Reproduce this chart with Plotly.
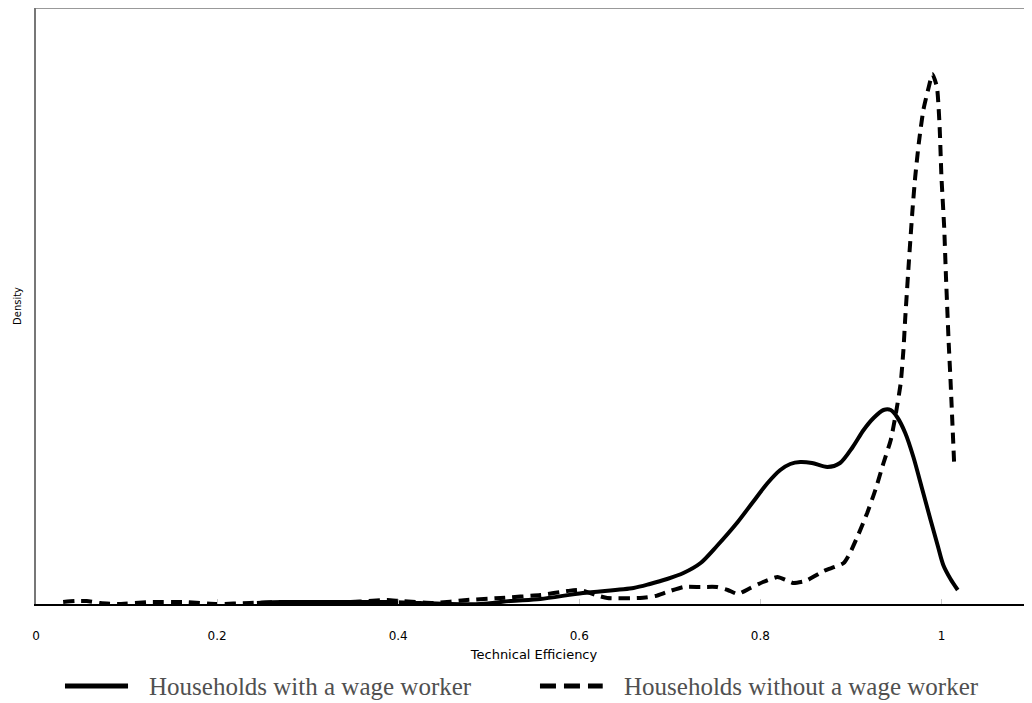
import plotly.graph_objects as go

# Technical efficiency grid and kernel density values
with_x = [0.244, 0.273, 0.328, 0.388, 0.424, 0.457, 0.491, 0.524, 0.557, 0.604,
          0.660, 0.678, 0.697, 0.715, 0.734, 0.752, 0.775, 0.791, 0.808, 0.822,
          0.833, 0.844, 0.857, 0.874, 0.888, 0.902, 0.914, 0.925, 0.936, 0.944,
          0.951, 0.960, 0.969, 0.979, 0.988, 0.996, 1.002, 1.010, 1.018]
with_y = [0.01, 0.02, 0.02, 0.02, 0.01, 0.00, 0.00, 0.03, 0.05, 0.11,
          0.16, 0.20, 0.25, 0.31, 0.41, 0.58, 0.82, 1.01, 1.21, 1.34,
          1.40, 1.42, 1.41, 1.37, 1.41, 1.57, 1.74, 1.86, 1.94, 1.94,
          1.87, 1.71, 1.47, 1.14, 0.84, 0.58, 0.39, 0.25, 0.14]

without_x = [0.030, 0.043, 0.056, 0.071, 0.090, 0.126, 0.162, 0.200, 0.236, 0.273,
             0.328, 0.388, 0.402, 0.439, 0.476, 0.513, 0.557, 0.587, 0.601, 0.618,
             0.631, 0.667, 0.684, 0.697, 0.715, 0.734, 0.752, 0.764, 0.775, 0.789,
             0.803, 0.819, 0.828, 0.836, 0.850, 0.870, 0.892, 0.899, 0.908, 0.918,
             0.927, 0.936, 0.944, 0.949, 0.955, 0.958, 0.960, 0.964, 0.968, 0.971,
             0.975, 0.980, 0.986, 0.990, 0.995, 0.998, 1.000, 1.003, 1.005, 1.008,
             1.010, 1.014]
without_y = [0.02, 0.03, 0.03, 0.01, 0.00, 0.02, 0.02, 0.00, 0.01, 0.02,
             0.01, 0.04, 0.03, 0.01, 0.04, 0.06, 0.09, 0.13, 0.14, 0.09,
             0.06, 0.06, 0.08, 0.12, 0.17, 0.17, 0.17, 0.14, 0.10, 0.16,
             0.22, 0.27, 0.24, 0.21, 0.23, 0.33, 0.41, 0.51, 0.69, 0.91,
             1.14, 1.41, 1.64, 1.87, 2.21, 2.54, 2.86, 3.42, 3.94, 4.27,
             4.61, 4.94, 5.17, 5.30, 5.17, 4.77, 4.27, 3.77, 3.27, 2.61,
             2.24, 1.41]

tick_vals = [0, 0.2, 0.4, 0.6, 0.8, 1.0]
tick_text = ["0", "0.2", "0.4", "0.6", "0.8", "1"]
series_names = ["Households with a wage worker", "Households without a wage worker"]

fig = go.Figure()
fig.add_trace(go.Scatter(x=with_x, y=with_y, mode="lines", name=series_names[0],
                         line=dict(color="black", width=4, shape="spline", smoothing=0.8),
                         showlegend=False))
fig.add_trace(go.Scatter(x=without_x, y=without_y, mode="lines", name=series_names[1],
                         line=dict(color="black", width=4, dash="11px,7px", shape="spline", smoothing=0.5),
                         showlegend=False))

fig.update_layout(
    width=1024, height=695,
    margin=dict(l=28, r=0, t=0, b=99),
    paper_bgcolor="white", plot_bgcolor="white",
    showlegend=False,
    xaxis=dict(range=[0, 1.1], tickvals=tick_vals, ticktext=tick_text,
               ticks="inside", ticklen=5, tickcolor="#c8c8c8", tickwidth=1,
               ticklabelstandoff=20,
               showline=True, linecolor="black", linewidth=2,
               showgrid=False, zeroline=False,
               tickfont=dict(family="DejaVu Sans", size=12, color="black"),
               title=dict(text="Technical Efficiency", standoff=7,
                          font=dict(family="DejaVu Sans", size=13, color="black"))),
    yaxis=dict(range=[0, 5.96], showticklabels=False, ticks="",
               showline=True, linecolor="#777777", linewidth=2,
               showgrid=False, zeroline=False),
)

# y-axis title
fig.add_annotation(xref="paper", yref="paper", x=-0.0191, y=0.5, xanchor="center", yanchor="middle",
                   text="Density", textangle=-90, showarrow=False,
                   font=dict(family="DejaVu Sans", size=10, color="black"))

# top border
fig.add_shape(type="line", xref="paper", yref="paper", x0=0, x1=1, y0=1, y1=1,
              line=dict(color="#999999", width=2))

# custom legend (long line samples as in the reference)
leg_y = -0.1376
fig.add_shape(type="line", xref="paper", yref="paper", x0=0.0291, x1=0.0924, y0=leg_y, y1=leg_y,
              line=dict(color="black", width=5))
fig.add_shape(type="line", xref="paper", yref="paper", x0=0.506, x1=0.569, y0=leg_y, y1=leg_y,
              line=dict(color="black", width=5, dash="16px,8px"))
fig.add_annotation(xref="paper", yref="paper", x=0.1114, y=leg_y, xanchor="left", yanchor="middle",
                   text=series_names[0], showarrow=False,
                   font=dict(family="Liberation Serif", size=25, color="#505050"))
fig.add_annotation(xref="paper", yref="paper", x=0.588, y=leg_y, xanchor="left", yanchor="middle",
                   text=series_names[1], showarrow=False,
                   font=dict(family="Liberation Serif", size=25, color="#505050"))

fig.write_html("out.html")
